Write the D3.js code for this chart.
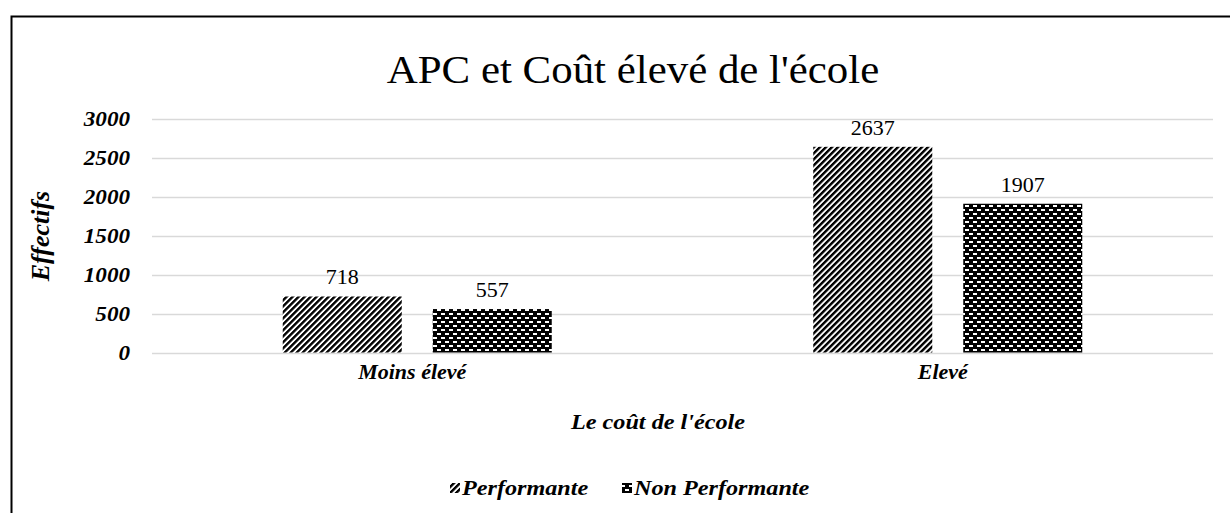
<!DOCTYPE html>
<html><head><meta charset="utf-8">
<script src="https://cdn.jsdelivr.net/npm/d3@7"></script>
<style>body{margin:0;background:#fff}svg{display:block}</style>
</head><body>
<script>
const categories = ["Moins élevé", "Elevé"];
const seriesNames = ["Performante", "Non Performante"];
const performante = [718, 2637];
const nonPerformante = [557, 1907];
const yTicks = [0, 500, 1000, 1500, 2000, 2500, 3000];

const W = 1230, H = 513, SX = 1.1;
const svg = d3.select("body").append("svg").attr("width", W).attr("height", H);
const defs = svg.append("defs");

const p1 = defs.append("pattern").attr("id", "stripe").attr("patternUnits", "userSpaceOnUse")
  .attr("width", 4.24).attr("height", 4.24).attr("patternTransform", "rotate(45)");
p1.append("rect").attr("width", 4.24).attr("height", 4.24).attr("fill", "#fff");
p1.append("rect").attr("width", 2.4).attr("height", 4.24).attr("fill", "#000");

const p2 = defs.append("pattern").attr("id", "brick").attr("patternUnits", "userSpaceOnUse")
  .attr("width", 8).attr("height", 8);
p2.append("rect").attr("width", 8).attr("height", 8).attr("fill", "#000");
p2.append("rect").attr("x", 1).attr("y", 1).attr("width", 4).attr("height", 2).attr("fill", "#fff");
p2.append("rect").attr("x", 5).attr("y", 5).attr("width", 3).attr("height", 2).attr("fill", "#fff");
p2.append("rect").attr("x", 0).attr("y", 5).attr("width", 1).attr("height", 2).attr("fill", "#fff");

const fills = ["url(#stripe)", "url(#brick)"];

function txt(x, y, s, size, opts = {}) {
  const g = svg.append("g").attr("transform", `translate(${x},${y}) scale(${SX},1)`);
  return g.append("text").attr("text-anchor", opts.anchor || "middle")
    .attr("font-family", "Liberation Serif").attr("font-size", size)
    .attr("font-weight", opts.bold ? "bold" : "normal")
    .attr("font-style", opts.italic ? "italic" : "normal")
    .attr("fill", "#000").text(s);
}

svg.append("rect").attr("x", 11.5).attr("y", 16.5).attr("width", 1240).attr("height", 520)
  .attr("fill", "none").attr("stroke", "#000").attr("stroke-width", 2);

const m = {left: 152, right: 1213, top: 118.5, bottom: 352.5};
const x0 = d3.scaleBand().domain(categories).range([m.left, m.right]);
const y = d3.scaleLinear().domain([0, 3000]).range([m.bottom, m.top]);
const barW = 119, gap = 31;
const x1 = d3.scaleBand().domain(seriesNames).range([0, barW * 2 + gap]).paddingInner(gap / (barW + gap));

svg.append("g").selectAll("line").data(yTicks).join("line")
  .attr("x1", m.left).attr("x2", m.right)
  .attr("y1", d => Math.round(y(d)) + 0.5).attr("y2", d => Math.round(y(d)) + 0.5)
  .attr("stroke", "#d9d9d9").attr("stroke-width", 1.3);

const yAxis = d3.axisLeft(y).tickValues(yTicks).tickFormat(d3.format("d")).tickSize(0).tickPadding(0);
const gy = svg.append("g").attr("transform", `translate(130,0)`).call(yAxis);
gy.select(".domain").remove();
gy.selectAll("text").attr("font-family", "Liberation Serif").attr("font-size", 21)
  .attr("font-weight", "bold").attr("font-style", "italic").attr("fill", "#000")
  .attr("x", 0).attr("dy", "0.35em").attr("transform", `scale(${SX},1)`);

const data = [performante, nonPerformante];
categories.forEach((c, ci) => {
  const off = x0(c) + x0.bandwidth() / 2 - (barW * 2 + gap) / 2;
  seriesNames.forEach((s, si) => {
    const v = data[si][ci];
    svg.append("rect").attr("x", off + x1(s)).attr("width", x1.bandwidth())
      .attr("y", y(v)).attr("height", y(0) - y(v)).attr("fill", fills[si]);
    txt(off + x1(s) + x1.bandwidth() / 2, y(v) - 12, v, 20);
  });
});

const xAxis = d3.axisBottom(x0).tickSize(0).tickPadding(0);
const gx = svg.append("g").attr("transform", `translate(-5,${m.bottom + 26})`).call(xAxis);
gx.select(".domain").remove();
gx.selectAll("text").attr("font-family", "Liberation Serif").attr("font-size", 20)
  .attr("font-weight", "bold").attr("font-style", "italic").attr("fill", "#000")
  .attr("dy", 0).attr("transform", `scale(${SX},1)`);

txt(633, 83, "APC et Coût élevé de l'école", 39);
txt(658, 429, "Le coût de l'école", 22, {bold: true, italic: true});

svg.append("text").attr("transform", "translate(49,236) rotate(-90)").attr("text-anchor", "middle")
  .attr("font-family", "Liberation Serif").attr("font-size", 26).attr("font-weight", "bold")
  .attr("font-style", "italic").text("Effectifs");

const legX = [450, 622];
seriesNames.forEach((s, i) => {
  svg.append("rect").attr("x", legX[i]).attr("y", 483).attr("width", 10).attr("height", 10).attr("fill", fills[i]);
  txt(legX[i] + 12, 495, s, 22, {bold: true, italic: true, anchor: "start"});
});
</script>
</body></html>
